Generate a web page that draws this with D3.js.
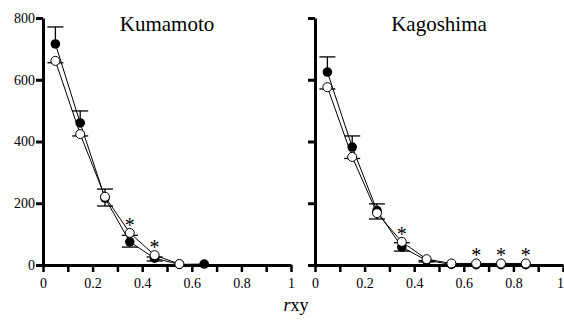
<!DOCTYPE html>
<html>
<head>
<meta charset="utf-8">
<script src="https://cdn.jsdelivr.net/npm/d3@7"></script>
<style>
  body { margin: 0; background: #fff; }
  svg text { font-family: "Liberation Serif", "DejaVu Serif", "Times New Roman", serif; }
</style>
</head>
<body>
<svg id="chart" width="564" height="324"></svg>
<script>
// values
const rxy = [0.05, 0.15, 0.25, 0.35, 0.45, 0.55, 0.65, 0.75, 0.85];

const kumaFilled    = [716, 460, 217, 75, 22, 2, 3];
const kumaFilledBar = [771, 499, 246, 58, 13, null, null];
const kumaOpen      = [661, 424, 221, 104, 32, 3];
const kumaOpenBar   = [655, 418, 191, 96, 26, null];
const kumaStar      = [0, 0, 0, 1, 1, 0];

const kagoFilled    = [625, 382, 176, 58, 15, 2, 1, 1, 1];
const kagoFilledBar = [674, 418, 198, 45, 10, null, null, null, null];
const kagoOpen      = [576, 350, 168, 75, 19, 5, 5, 5, 5];
const kagoOpenBar   = [570, 345, 149, 72, 14, null, null, null, null];
const kagoStar      = [0, 0, 0, 1, 0, 0, 1, 1, 1];

const yTicks = [0, 200, 400, 600, 800];
const xTicks = [0, 0.1, 0.2, 0.3, 0.4, 0.5, 0.6, 0.7, 0.8, 0.9, 1];
const xTickLabels = {0: "0", 0.2: "0.2", 0.4: "0.4", 0.6: "0.6", 0.8: "0.8", 1: "1"};

const svg = d3.select("#chart");
const y = d3.scaleLinear().domain([0, 800]).range([265, 18]);

function panel(name, left, title, showYLabels, filled, filledBar, open, openBar, star) {
  const x = d3.scaleLinear().domain([0, 1]).range([left, left + 248]);
  const g = svg.append("g").attr("class", name);

  // y axis
  const ya = g.append("g")
    .attr("transform", "translate(" + left + ",0)")
    .call(d3.axisLeft(y).tickValues(yTicks).tickSize(7).tickSizeOuter(0)
      .tickFormat(showYLabels ? d3.format("d") : ""));
  ya.attr("font-size", 14);
  ya.select(".domain").attr("stroke-width", 3);
  ya.selectAll(".tick line").attr("stroke-width", 3);
  ya.selectAll(".tick text").attr("x", -8).attr("fill", "#000");

  // x axis
  const xa = g.append("g")
    .attr("transform", "translate(0,265)")
    .call(d3.axisBottom(x).tickValues(xTicks).tickSize(7).tickSizeOuter(0)
      .tickFormat(d => xTickLabels[Math.round(d * 10) / 10] || ""));
  xa.attr("font-size", 14);
  xa.select(".domain").attr("stroke-width", 3);
  xa.selectAll(".tick line").attr("stroke-width", 2.5);
  xa.selectAll(".tick text").attr("y", 13).attr("fill", "#000")
    .attr("dx", d => (d === 1 && left + 248 > 560) ? -3 : 0);

  g.append("text")
    .attr("x", x(0.5)).attr("y", 31)
    .attr("text-anchor", "middle")
    .attr("font-size", 21)
    .attr("fill", "#000")
    .text(title);

  const line = d3.line().x(d => x(d[0])).y(d => y(d[1]));
  [filled, open].forEach(vals => {
    g.append("path")
      .datum(vals.map((v, i) => [rxy[i], v]))
      .attr("d", line)
      .attr("fill", "none")
      .attr("stroke", "#000")
      .attr("stroke-width", 1);
  });

  // error bars
  [[filled, filledBar], [open, openBar]].forEach(([vals, bars]) => {
    bars.forEach((b, i) => {
      if (b == null) return;
      const cx = x(rxy[i]);
      g.append("line")
        .attr("x1", cx).attr("x2", cx)
        .attr("y1", y(vals[i])).attr("y2", y(b))
        .attr("stroke", "#000").attr("stroke-width", 1.3);
      g.append("line")
        .attr("x1", cx - 8).attr("x2", cx + 8)
        .attr("y1", y(b)).attr("y2", y(b))
        .attr("stroke", "#000").attr("stroke-width", 1.3);
    });
  });

  g.selectAll("circle.filled")
    .data(filled.map((v, i) => [rxy[i], v]))
    .enter().append("circle")
    .attr("class", "filled")
    .attr("cx", d => x(d[0])).attr("cy", d => y(d[1]))
    .attr("r", 4.8)
    .attr("fill", "#000");

  g.selectAll("circle.open")
    .data(open.map((v, i) => [rxy[i], v]))
    .enter().append("circle")
    .attr("class", "open")
    .attr("cx", d => x(d[0])).attr("cy", d => y(d[1]))
    .attr("r", 4.5)
    .attr("fill", "#fff")
    .attr("stroke", "#000")
    .attr("stroke-width", 1);

  g.selectAll("text.star")
    .data(open.map((v, i) => [rxy[i], v, star[i]]).filter(d => d[2]))
    .enter().append("text")
    .attr("class", "star")
    .attr("x", d => x(d[0])).attr("y", d => y(d[1]) - 1)
    .attr("text-anchor", "middle")
    .attr("font-size", 20)
    .attr("fill", "#000")
    .text("*");
}

panel("kuma", 43, "Kumamoto", true, kumaFilled, kumaFilledBar, kumaOpen, kumaOpenBar, kumaStar);
panel("kago", 315, "Kagoshima", false, kagoFilled, kagoFilledBar, kagoOpen, kagoOpenBar, kagoStar);

// shared x label
const lab = svg.append("text")
  .attr("x", 296).attr("y", 311)
  .attr("text-anchor", "middle")
  .attr("font-size", 18)
  .attr("fill", "#000");
lab.append("tspan").attr("font-style", "italic").text("r");
lab.append("tspan").text("xy");
</script>
</body>
</html>
